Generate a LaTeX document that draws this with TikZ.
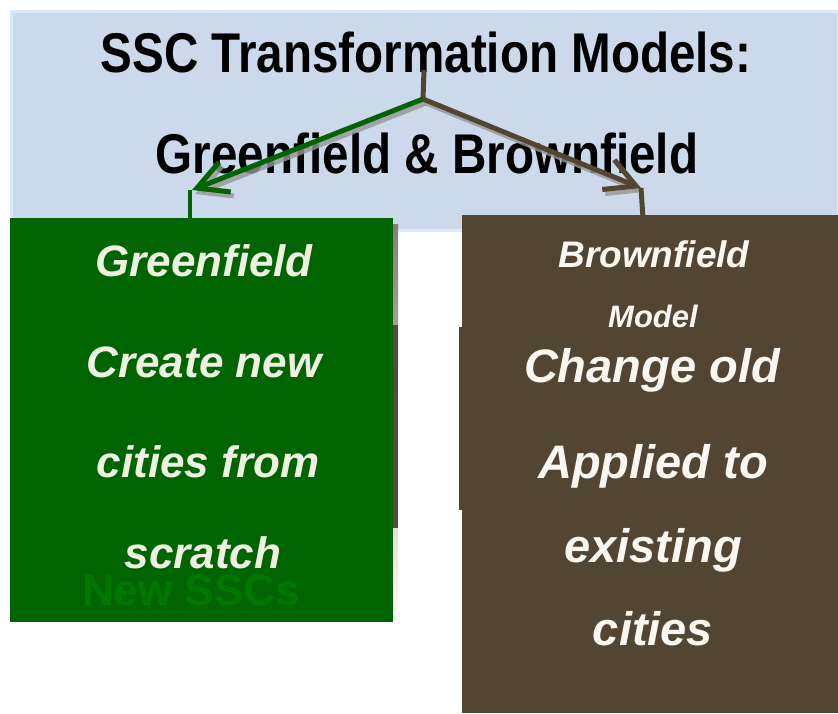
\documentclass[tikz,border=0pt]{standalone}
\usepackage{fontspec}
\setmainfont{Liberation Sans}
\newfontfamily\narrowfont[FakeStretch=0.85]{Liberation Sans}
\usetikzlibrary{arrows.meta}
\definecolor{bgblue}{HTML}{CBD9EB}
\definecolor{bgedge}{HTML}{DDE9F9}
\definecolor{gfill}{HTML}{006400}
\definecolor{bfill}{HTML}{524632}
\definecolor{gtext}{HTML}{EEF0E2}
\definecolor{btext}{HTML}{F8F8F0}
\definecolor{ssc}{HTML}{007800}
\definecolor{shade}{HTML}{959595}
\tikzset{
  gline/.style={draw=gfill, line width=5pt},
  bline/.style={draw=bfill, line width=5pt},
  sline/.style={draw=shade, line width=5pt, opacity=0.8},
  barb/.style={-{Straight Barb[length=30pt,width=32pt]}},
  titletext/.style={anchor=base, font=\narrowfont\bfseries\fontsize{56}{60}\selectfont},
  gtxt/.style={anchor=base, text=gtext, font=\bfseries\itshape\fontsize{44}{48}\selectfont},
  btxt/.style={anchor=base, text=btext, font=\bfseries\itshape\fontsize{47}{50}\selectfont},
}
\begin{document}
\begin{tikzpicture}[x=1pt,y=-1pt]
\useasboundingbox (0,0) rectangle (838,713);
% background panel
\fill[shade] (15,15) rectangle (843,235);
\filldraw[fill=bgblue, draw=bgedge, line width=3pt] (11,11) rectangle (838,230);
% title
\node[titletext] (t1) at (426,72) {SSC Transformation Models:};
\node[titletext] (t2) at (427,173) {Greenfield \& Brownfield};
% connector coordinates
\coordinate (top) at (424,70);
\coordinate (fork) at (423,99);
\coordinate (gtip) at (192,190);
\coordinate (btip) at (641,188);
\coordinate (gtop) at (190,220);
\coordinate (btop) at (643,218);
% shadows of connectors
\draw[sline, barb] ([shift={(3,4)}]fork) -- ([shift={(3,4)}]gtip);
\draw[sline, barb] ([shift={(3,4)}]fork) -- ([shift={(3,4)}]btip);
% connectors
\draw[bline] (top) -- (fork);
\draw[bline] (btip |- 0,188) -- (btop);
\draw[gline, line width=4pt] (gtop |- 0,190) -- (gtop);
\draw[gline, barb] (fork) -- (gtip);
\draw[bline, barb] (fork) -- (btip);
% green box
\fill[shade] (16,224) rectangle (398,628);
\fill[black!70] (393,325) rectangle (398,528);
\node[fill=gfill, draw=none, minimum width=383pt, minimum height=404pt, inner sep=0pt] (green) at (201.5,420) {};
% brown box
\node[fill=bfill, draw=none, minimum width=376pt, minimum height=498pt, inner sep=0pt] (brown) at (650,464) {};
\fill[bfill] (459,327) rectangle (838,510);
% green texts
\node[anchor=base, text=ssc, font=\bfseries\fontsize{44}{48}\selectfont] (ssc) at (191,605) {New SSCs};
\node[gtxt] (g1) at (204,276) {Greenfield};
\node[gtxt] (g2) at (204,377) {Create new};
\node[gtxt] (g3) at (208,477) {cities from};
\node[gtxt] (g4) at (203,568) {scratch};
% brown texts
\node[anchor=base, text=btext, font=\bfseries\itshape\fontsize{37}{40}\selectfont] (b1) at (654,267) {Brownfield};
\node[anchor=base, text=btext, font=\bfseries\itshape\fontsize{31}{34}\selectfont] (b2) at (653,327) {Model};
\node[btxt] (b3) at (652,382) {Change old};
\node[btxt] (b4) at (653,478) {Applied to};
\node[btxt] (b5) at (653,562) {existing};
\node[btxt] (b6) at (653,645) {cities};
\end{tikzpicture}
\end{document}
